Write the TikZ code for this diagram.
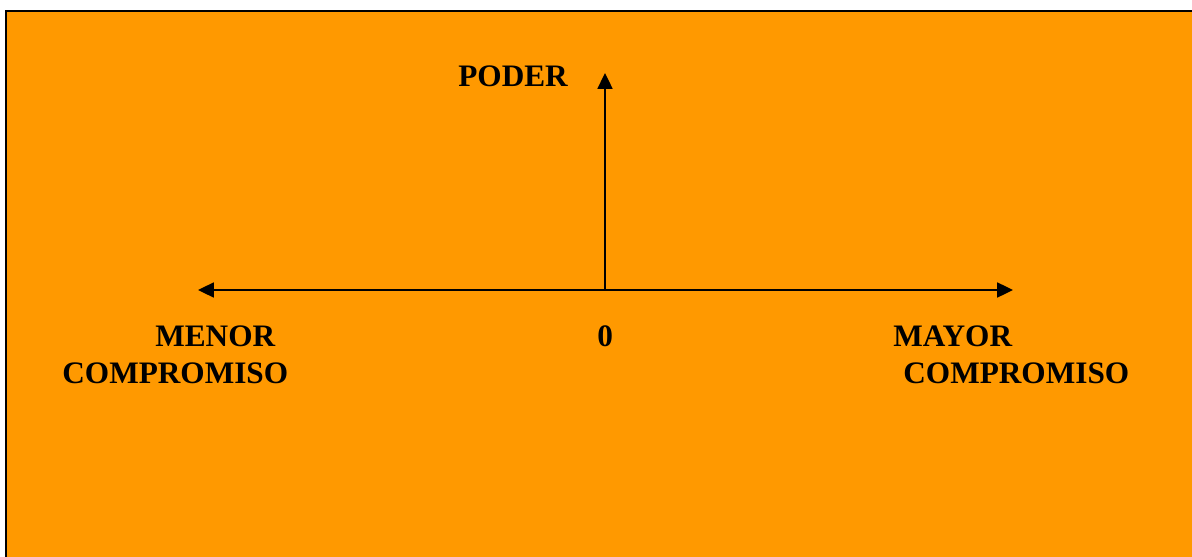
\documentclass[tikz,border=0pt]{standalone}
\usepackage{fontspec}
\setmainfont{Liberation Serif}
\definecolor{fondo}{RGB}{255,153,0}
\usetikzlibrary{arrows.meta,positioning}

\begin{document}
\begin{tikzpicture}[x=0.02cm, y=-0.02cm,
    every node/.style={font=\fontsize{17.8}{22}\selectfont\bfseries, inner sep=0pt, anchor=base west},
    eje/.style={line width=1.1pt, -{Triangle[length=9pt,width=8.5pt]}}]
        \useasboundingbox (0,0) rectangle (1192,557);
        \clip (0,0) rectangle (1192,557);
        % Fondo
        \draw[fill=fondo, line width=1.4pt] (6,11) rectangle (1210,580);
        % Ejes
        \coordinate (origen) at (605,290);
        \coordinate (arriba) at (605,73);
        \coordinate (izq) at (198,290);
        \coordinate (der) at (1013,290);
        \draw[eje] (origen) -- (arriba);
        \draw[eje] (origen) -- (izq);
        \draw[eje] (origen) -- (der);
        % Etiquetas
        \node (poder) at (458,87) {PODER};
        \node (menor) at (155,346) {MENOR};
        \node (compizq) at (62,383) {COMPROMISO};
        \node (cero) at (597,346) {0};
        \node (mayor) at (893,346) {MAYOR};
        \node (compder) at (903,383) {COMPROMISO};
      \end{tikzpicture}
\end{document}
